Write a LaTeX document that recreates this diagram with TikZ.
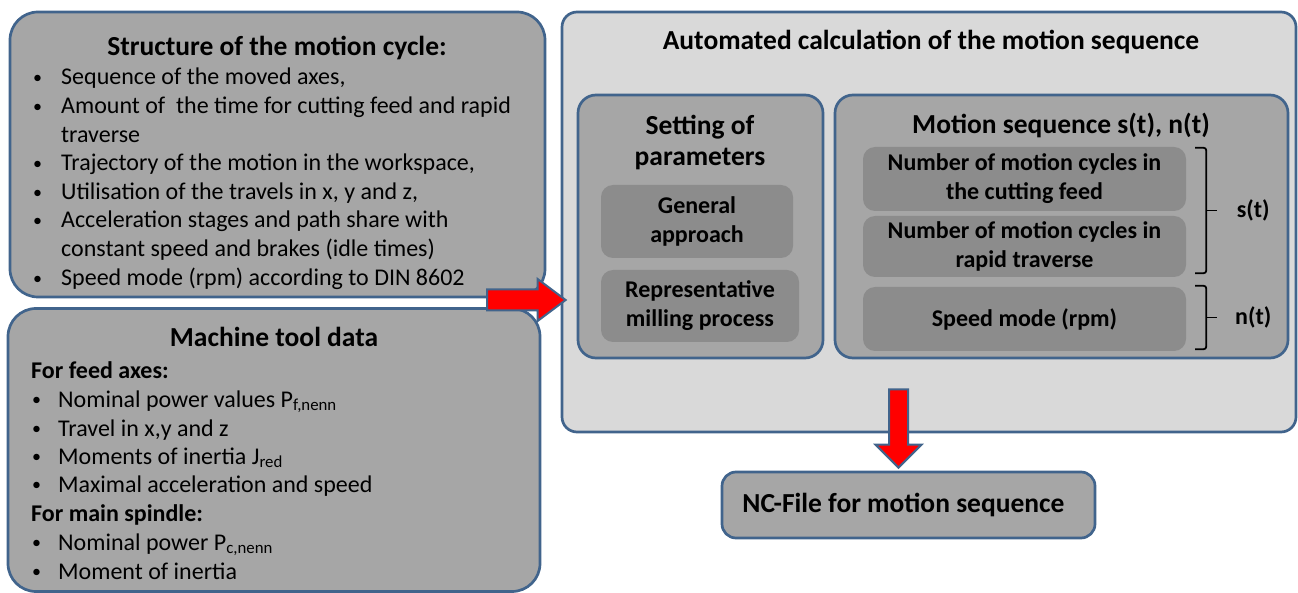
\documentclass[tikz,border=0pt]{standalone}
\usepackage{fontspec}
\setmainfont{Carlito}
\usetikzlibrary{calc}
\definecolor{edgeblue}{RGB}{65,100,140}
\definecolor{boxgray}{RGB}{166,166,166}
\definecolor{panelgray}{RGB}{217,217,217}
\definecolor{innergray}{RGB}{140,140,140}
\definecolor{flowred}{RGB}{255,0,0}
\newcommand{\dotmark}[1]{\makebox[#1][l]{\raisebox{1.5pt}{\fontsize{18}{18}\selectfont\textbullet}}}

\begin{document}
\begin{tikzpicture}[x=1pt,y=-1pt,
  panel/.style={draw=edgeblue,line width=2.7pt,fill=boxgray,rounded corners=#1,inner sep=0pt},
  panel/.default=28pt,
  subbox/.style={fill=innergray,rounded corners=12pt,inner sep=0pt,align=center,
    font=\bfseries\fontsize{24}{29}\selectfont},
  ttl/.style={font=\bfseries\fontsize{27.5}{31}\selectfont,inner sep=0pt,anchor=base},
  sub/.style={font=\bfseries\fontsize{24}{28}\selectfont,inner sep=0pt,anchor=base west},
  item/.style={font=\fontsize{24}{28}\selectfont,inner sep=0pt,anchor=base west},
  blockarrow/.style={draw=edgeblue,line width=2pt,fill=flowred,line join=miter},
  bracket/.style={draw=black,line width=1.8pt,rounded corners=2.5pt},
  lab/.style={font=\bfseries\fontsize{24}{28}\selectfont,inner sep=0pt}
]
\useasboundingbox (0,0) rectangle (1298,593);

% ---- left column: inputs ----
\node[panel,minimum width=535pt,minimum height=285pt] (struct) at (277.5,154.5) {};
\node[panel,minimum width=532pt,minimum height=283pt] (machine) at (274,450) {};

\node[ttl] (structT) at (277,56) {Structure of the motion cycle:};
\node[item] (s1) at (33,85)  {\dotmark{28pt}Sequence of the moved axes,};
\node[item] (s2) at (33,114) {\dotmark{28pt}Amount of\ \ the time for cutting feed and rapid};
\node[item] (s3) at (61,143) {traverse};
\node[item] (s4) at (33,171) {\dotmark{28pt}Trajectory of the motion in the workspace,};
\node[item] (s5) at (33,200) {\dotmark{28pt}Utilisation of the travels in x, y and z,};
\node[item] (s6) at (33,228) {\dotmark{28pt}Acceleration stages and path share with};
\node[item] (s7) at (61,257) {constant speed and brakes (idle times)};
\node[item] (s8) at (33,286) {\dotmark{28pt}Speed mode (rpm) according to DIN 8602};

\node[ttl] (machT) at (274,347) {Machine tool data};
\node[sub]  (m0) at (31,378) {For feed axes:};
\node[item] (m1) at (32,407) {\dotmark{26pt}Nominal power values P\textsubscript{f,nenn}};
\node[item] (m2) at (32,436) {\dotmark{26pt}Travel in x,y and z};
\node[item] (m3) at (32,464) {\dotmark{26pt}Moments of inertia J\textsubscript{red}};
\node[item] (m4) at (32,492) {\dotmark{26pt}Maximal acceleration and speed};
\node[sub]  (m5) at (31,521) {For main spindle:};
\node[item] (m6) at (32,550) {\dotmark{26pt}Nominal power P\textsubscript{c,nenn}};
\node[item] (m7) at (32,579) {\dotmark{26pt}Moment of inertia};

% ---- right panel: automated calculation ----
\node[panel=15pt,fill=panelgray,minimum width=734pt,minimum height=420pt] (auto) at (929,222) {};
\node[ttl] (autoT) at (931,50) {Automated calculation of the motion sequence};

\node[panel=18pt,minimum width=245pt,minimum height=263pt] (setting) at (700.5,226.5) {};
\node[font=\bfseries\fontsize{27.5}{31}\selectfont,align=center,inner sep=0pt] (settingT) at (700,142) {Setting of\\parameters};
\node[subbox,minimum width=192pt,minimum height=73pt] (general) at (697,221.5) {General\\approach};
\node[subbox,minimum width=198pt,minimum height=72pt] (repr) at (700,306) {Representative\\milling process};

\node[panel=18pt,minimum width=453pt,minimum height=263pt] (motion) at (1061.5,226.5) {};
\node[ttl] (motionT) at (1061,134) {Motion sequence s(t), n(t)};
\node[subbox,minimum width=323pt,minimum height=64pt] (cut) at (1024.5,179) {Number of motion cycles in\\the cutting feed};
\node[subbox,minimum width=323pt,minimum height=61pt] (rapid) at (1024.5,246.5) {Number of motion cycles in\\rapid traverse};
\node[subbox,minimum width=323pt,minimum height=64pt] (speed) at (1024.5,319) {Speed mode (rpm)};

% brackets grouping the motion quantities
\coordinate (sA) at ($(cut.north east)+(9,1)$);
\coordinate (sB) at ($(rapid.south east)+(9,-4)$);
\coordinate (sM) at ($(sA)!0.5!(sB)+(11,0)$);
\coordinate (nA) at ($(speed.north east)+(9,-1)$);
\coordinate (nB) at ($(speed.south east)+(9,-2)$);
\coordinate (nM) at ($(nA)!0.5!(nB)+(11,0)$);
\draw[bracket] (sA) -- ++(11,0) -- ($(sB)+(11,0)$) -- (sB);
\draw[bracket] (sM) -- ++(11,0);
\draw[bracket] (nA) -- ++(11,0) -- ($(nB)+(11,0)$) -- (nB);
\draw[bracket] (nM) -- ++(11,0);
\node[lab] (sLab) at ($(sM)+(47,0)$) {s(t)};
\node[lab] (nLab) at ($(nM)+(47,0)$) {n(t)};

% ---- output ----
\node[panel=14pt,minimum width=373pt,minimum height=66pt,font=\bfseries\fontsize{27.5}{31}\selectfont] (nc) at (908.5,505) {\hspace*{-10pt}NC-File for motion sequence};

% ---- block arrows ----
\coordinate (rBase) at (487,300);
\coordinate (rTip) at ($(auto.west |- rBase)+(5,0)$);
\draw[blockarrow] ($(rBase)+(0,-10.5)$) -- ($(rTip)+(-28,-10.5)$) -- ($(rTip)+(-28,-21)$)
  -- (rTip) -- ($(rTip)+(-28,21)$) -- ($(rTip)+(-28,10.5)$) -- ($(rBase)+(0,10.5)$) -- cycle;

\coordinate (dTip) at ($(nc.north)+(-10,-3)$);
\coordinate (dBase) at ($(dTip |- auto.south)+(0,-44)$);
\draw[blockarrow] ($(dBase)+(-9.5,0)$) -- ($(dTip)+(-9.5,-23)$) -- ($(dTip)+(-23,-23)$)
  -- (dTip) -- ($(dTip)+(23,-23)$) -- ($(dTip)+(9.5,-23)$) -- ($(dBase)+(9.5,0)$) -- cycle;
\end{tikzpicture}
\end{document}
